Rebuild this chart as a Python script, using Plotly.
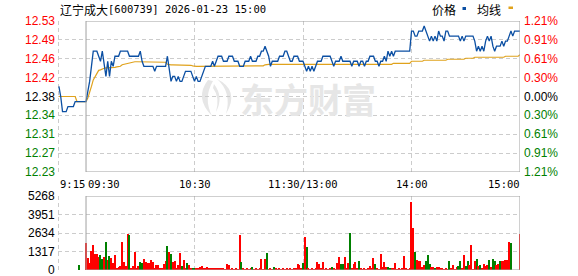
import plotly.graph_objects as go

W, H = 578, 276
PRE_CLOSE = 12.38

# ---------------- data ----------------
# pre-market call auction 9:15 - 9:29 (minute offsets -15..-1 from 09:30)
pre_price = [12.40, 12.38, 12.35, 12.35, 12.35, 12.36, 12.36, 12.36, 12.36, 12.37,
             12.37, 12.37, 12.37, 12.37, 12.37]
pre_avg = [12.38, 12.38, 12.38, 12.38, 12.38, 12.38, 12.38, 12.38, 12.38, 12.38,
           12.37, 12.37, 12.37, 12.37, 12.37]
pre_volume = [0, 0, 0, 0, 0, 0, 0, 0, 0, 0, 0, 356, 0, 0, 0]
pre_vol_up = [1, 1, 1, 1, 1, 1, 1, 1, 1, 1, 1, 0, 1, 1, 1]

# continuous session, one value per trading minute 09:30 .. 15:00 (241 points)
price = [
    12.37, 12.39, 12.41, 12.44, 12.47, 12.47, 12.47, 12.46, 12.45, 12.47,
    12.44, 12.42, 12.45, 12.42, 12.45, 12.44, 12.46, 12.46, 12.46, 12.47,
    12.47, 12.47, 12.47, 12.47, 12.46, 12.46, 12.46, 12.46, 12.46, 12.46,
    12.47, 12.45, 12.44, 12.44, 12.44, 12.44, 12.44, 12.44, 12.43, 12.44,
    12.44, 12.44, 12.44, 12.44, 12.44, 12.46, 12.43, 12.41, 12.42, 12.42,
    12.41, 12.42, 12.41, 12.41, 12.42, 12.43, 12.43, 12.43, 12.43, 12.42,
    12.41, 12.42, 12.41, 12.41, 12.42, 12.43, 12.44, 12.44, 12.44, 12.44,
    12.45, 12.44, 12.45, 12.46, 12.46, 12.46, 12.45, 12.45, 12.45, 12.46,
    12.46, 12.46, 12.45, 12.45, 12.45, 12.44, 12.44, 12.44, 12.45, 12.45,
    12.45, 12.46, 12.45, 12.45, 12.45, 12.46, 12.46, 12.47, 12.47, 12.48,
    12.47, 12.46, 12.44, 12.45, 12.45, 12.45, 12.45, 12.46, 12.46, 12.46,
    12.47, 12.47, 12.46, 12.45, 12.45, 12.46, 12.46, 12.46, 12.45, 12.45,
    12.45, 12.44, 12.43, 12.44, 12.43, 12.44, 12.43, 12.44, 12.45, 12.45,
    12.45, 12.46, 12.46, 12.46, 12.46, 12.46, 12.45, 12.44, 12.45, 12.45,
    12.45, 12.46, 12.45, 12.45, 12.45, 12.45, 12.45, 12.44, 12.45, 12.45,
    12.45, 12.44, 12.45, 12.45, 12.44, 12.45, 12.45, 12.46, 12.46, 12.46,
    12.45, 12.45, 12.44, 12.45, 12.45, 12.46, 12.45, 12.47, 12.46, 12.47,
    12.46, 12.47, 12.47, 12.47, 12.47, 12.47, 12.47, 12.47, 12.47, 12.47,
    12.51, 12.51, 12.50, 12.50, 12.51, 12.51, 12.51, 12.52, 12.51, 12.50,
    12.49, 12.50, 12.49, 12.50, 12.49, 12.51, 12.50, 12.50, 12.49, 12.51,
    12.51, 12.50, 12.50, 12.50, 12.50, 12.50, 12.50, 12.49, 12.50, 12.49,
    12.50, 12.50, 12.50, 12.50, 12.50, 12.49, 12.47, 12.48, 12.47, 12.48,
    12.47, 12.49, 12.50, 12.49, 12.50, 12.48, 12.47, 12.48, 12.48, 12.48,
    12.49, 12.48, 12.49, 12.49, 12.50, 12.51, 12.50, 12.51, 12.51, 12.51,
    12.51,
]

avg = [
    12.370, 12.377, 12.387, 12.400, 12.413, 12.420, 12.427, 12.432, 12.433, 12.435,
    12.436, 12.437, 12.437, 12.437, 12.438, 12.438, 12.438, 12.439, 12.439, 12.440,
    12.443, 12.444, 12.445, 12.446, 12.447, 12.447, 12.448, 12.449, 12.449, 12.449,
    12.449, 12.449, 12.449, 12.449, 12.449, 12.449, 12.449, 12.449, 12.449, 12.449,
    12.449, 12.449, 12.449, 12.449, 12.448, 12.444, 12.443, 12.443, 12.443, 12.443,
    12.442, 12.442, 12.442, 12.442, 12.442, 12.442, 12.442, 12.442, 12.442, 12.441,
    12.440, 12.440, 12.440, 12.440, 12.440, 12.440, 12.440, 12.440, 12.440, 12.440,
    12.440, 12.440, 12.440, 12.440, 12.440, 12.440, 12.440, 12.440, 12.440, 12.441,
    12.441, 12.441, 12.441, 12.441, 12.441, 12.441, 12.441, 12.441, 12.441, 12.441,
    12.441, 12.441, 12.441, 12.441, 12.441, 12.441, 12.441, 12.441, 12.441, 12.443,
    12.444, 12.444, 12.444, 12.444, 12.444, 12.444, 12.444, 12.444, 12.444, 12.444,
    12.444, 12.444, 12.444, 12.444, 12.444, 12.444, 12.444, 12.444, 12.444, 12.444,
    12.444, 12.444, 12.444, 12.444, 12.444, 12.444, 12.444, 12.444, 12.444, 12.444,
    12.444, 12.444, 12.444, 12.444, 12.444, 12.444, 12.444, 12.444, 12.444, 12.444,
    12.444, 12.444, 12.444, 12.444, 12.444, 12.444, 12.444, 12.444, 12.444, 12.444,
    12.444, 12.444, 12.444, 12.444, 12.444, 12.444, 12.444, 12.444, 12.444, 12.444,
    12.444, 12.444, 12.444, 12.444, 12.444, 12.444, 12.444, 12.444, 12.444, 12.444,
    12.446, 12.446, 12.446, 12.446, 12.446, 12.446, 12.446, 12.446, 12.446, 12.446,
    12.450, 12.450, 12.450, 12.450, 12.450, 12.450, 12.450, 12.452, 12.452, 12.452,
    12.452, 12.452, 12.452, 12.452, 12.452, 12.452, 12.452, 12.452, 12.452, 12.452,
    12.454, 12.454, 12.454, 12.454, 12.454, 12.454, 12.454, 12.454, 12.454, 12.454,
    12.456, 12.456, 12.456, 12.456, 12.456, 12.458, 12.458, 12.458, 12.458, 12.458,
    12.458, 12.458, 12.458, 12.458, 12.458, 12.458, 12.458, 12.458, 12.458, 12.458,
    12.458, 12.458, 12.460, 12.460, 12.460, 12.460, 12.460, 12.460, 12.460, 12.460,
    12.463,
]

volume = [
    1946, 878, 522, 1376, 1780, 1139, 1139, 950, 1068, 783,
    925, 2017, 712, 997, 878, 498, 1068, 119, 237, 285,
    1993, 570, 285, 2563, 2492, 142, 285, 1281, 119, 285,
    570, 498, 783, 593, 522, 475, 712, 570, 166, 356,
    356, 119, 119, 403, 641, 1709, 1305, 1139, 570, 641,
    119, 356, 1234, 285, 712, 119, 475, 356, 119, 142,
    95, 95, 166, 237, 285, 166, 119, 237, 95, 95,
    119, 95, 166, 95, 119, 166, 95, 71, 427, 356,
    47, 95, 71, 95, 71, 2492, 570, 95, 71, 95,
    71, 95, 190, 71, 95, 71, 95, 783, 71, 783,
    1210, 71, 95, 71, 190, 95, 71, 95, 71, 95,
    71, 95, 71, 95, 71, 95, 142, 427, 332, 95,
    498, 2373, 1661, 95, 71, 95, 71, 95, 593, 427,
    95, 593, 71, 95, 71, 95, 214, 95, 71, 522,
    925, 403, 451, 925, 95, 522, 2610, 95, 427, 570,
    95, 664, 95, 71, 95, 71, 95, 285, 95, 854,
    427, 95, 71, 1139, 237, 546, 237, 190, 142, 95,
    119, 522, 71, 95, 71, 95, 997, 95, 71, 142,
    4865, 2990, 1305, 712, 664, 664, 190, 356, 641, 1068,
    427, 190, 237, 166, 190, 214, 166, 95, 71, 95,
    71, 664, 142, 356, 71, 190, 285, 664, 95, 1068,
    285, 617, 356, 1780, 71, 617, 783, 285, 356, 95,
    427, 285, 356, 712, 190, 783, 617, 356, 427, 664,
    617, 641, 712, 712, 2017, 1946, 0, 0, 0, 0,
    2563,
]

vol_up = [
    1, 1, 1, 1, 1, 1, 1, 1, 0, 0,
    1, 0, 1, 0, 1, 1, 1, 1, 1, 1,
    1, 1, 1, 1, 0, 1, 1, 1, 1, 1,
    0, 0, 1, 1, 1, 1, 1, 1, 1, 1,
    1, 1, 1, 1, 1, 0, 1, 0, 1, 1,
    1, 1, 1, 0, 1, 1, 0, 1, 1, 0,
    0, 1, 1, 1, 1, 1, 1, 1, 1, 1,
    1, 1, 1, 1, 1, 1, 1, 1, 1, 1,
    1, 1, 1, 1, 1, 1, 0, 1, 1, 1,
    1, 1, 0, 1, 1, 1, 1, 1, 1, 1,
    0, 1, 1, 1, 0, 1, 1, 1, 1, 1,
    1, 1, 1, 1, 1, 1, 1, 1, 1, 1,
    0, 1, 0, 1, 1, 1, 1, 1, 1, 1,
    1, 1, 1, 1, 1, 1, 0, 1, 1, 1,
    1, 0, 0, 1, 1, 1, 0, 1, 1, 1,
    1, 0, 1, 1, 1, 1, 1, 1, 1, 1,
    0, 1, 1, 1, 1, 1, 1, 0, 0, 1,
    1, 1, 1, 1, 1, 1, 1, 1, 1, 1,
    1, 1, 0, 1, 1, 1, 1, 1, 0, 0,
    0, 1, 1, 0, 1, 1, 1, 1, 1, 1,
    1, 0, 1, 1, 1, 1, 0, 0, 1, 1,
    0, 0, 1, 1, 1, 1, 0, 1, 0, 1,
    1, 1, 1, 0, 1, 0, 0, 1, 1, 0,
    1, 1, 1, 1, 1, 0, 1, 1, 1, 1,
    1,
]

price_tick_labels = ["12.53", "12.49", "12.46", "12.42", "12.38", "12.34", "12.31", "12.27", "12.23"]
pct_tick_labels = ["1.21%", "0.91%", "0.61%", "0.30%", "0.00%", "0.30%", "0.61%", "0.91%", "1.21%"]
vol_tick_labels = ["5268", "3951", "2634", "1317", "0"]
time_labels = ["9:15", "09:30", "10:30", "11:30/13:00", "14:00", "15:00"]
time_minutes = [-15.5, 0, 60, 120, 180, 240]

title_name = "辽宁成大"
title_rest = "[600739] 2026-01-23 15:00"
legend_names = ["价格", "均线"]
watermark = "东方财富"

# ---------------- styling ----------------
BLUE = "#0b4fa3"
GOLD = "#e0a21c"
RED = "#ff0000"
GREEN = "#008000"
GRID = "#cccccc"
BORDER = "#a0a0a0"
NUM_FONT = "Liberation Sans, Arial, sans-serif"
MONO = "DejaVu Sans Mono, monospace"
CJK = "Noto Sans CJK SC, sans-serif"

L, R = 58, 520          # pixel x of plot area
PLOT_W = R - L
X_RANGE = [-15.5, 240]
P_LO, P_HI = 12.23, 12.53
V_HI = 5268


def xp(p):
    return (p - L) / PLOT_W


def yp(p):
    return (H - p) / H


n_ticks = len(price_tick_labels)
price_ticks = [P_HI - i * (P_HI - P_LO) / (n_ticks - 1) for i in range(n_ticks)]
vol_ticks = [V_HI - i * V_HI / (len(vol_tick_labels) - 1) for i in range(len(vol_tick_labels))]

pre_minutes = list(range(-len(pre_price), 0))
minutes = list(range(len(price)))

fig = go.Figure()

all_vol_x = pre_minutes + minutes
all_vol = pre_volume + volume
all_up = pre_vol_up + vol_up
fig.add_trace(go.Bar(
    x=all_vol_x, y=all_vol, xaxis="x2", yaxis="y2",
    marker=dict(color=[RED if u else GREEN for u in all_up], line=dict(width=0)),
    width=0.62, showlegend=False, hoverinfo="skip",
))

fig.add_trace(go.Scatter(
    x=pre_minutes + minutes, y=pre_avg + avg, mode="lines",
    line=dict(color=GOLD, width=1.2), showlegend=False, hoverinfo="skip",
))
fig.add_trace(go.Scatter(
    x=pre_minutes + minutes, y=pre_price + price, mode="lines",
    line=dict(color=BLUE, width=1.3), showlegend=False, hoverinfo="skip",
))

main_dom = [yp(172), yp(21)]
vol_dom = [yp(270), yp(196)]

xcommon = dict(range=X_RANGE, showticklabels=False, showline=False, zeroline=False,
               ticks="", tickvals=[60, 120, 180], showgrid=True, gridcolor=GRID,
               griddash="4px,3px", gridwidth=1, fixedrange=True)

fig.update_layout(
    width=W, height=H, autosize=False,
    margin=dict(l=L, r=W - R, t=0, b=0, pad=0),
    paper_bgcolor="white", plot_bgcolor="rgba(0,0,0,0)",
    bargap=0,
    xaxis=dict(anchor="y", **xcommon),
    xaxis2=dict(anchor="y2", matches="x", **xcommon),
    yaxis=dict(domain=main_dom, range=[P_LO, P_HI], tickvals=price_ticks,
               showticklabels=False, showgrid=True, gridcolor=GRID, griddash="4px,3px",
               zeroline=False, showline=False, ticks=""),
    yaxis2=dict(domain=vol_dom, range=[0, V_HI], tickvals=vol_ticks,
                showticklabels=False, showgrid=True, gridcolor=GRID, griddash="4px,3px",
                zeroline=False, showline=False, ticks=""),
)

shapes = []
# watermark logo (light grey swooshes)
def pix_path(pts_cmds):
    return pts_cmds

def P(x, y):
    return f"{xp(x):.5f},{yp(y):.5f}"

logo_paths = [
    f"M {P(208,80)} Q {P(194,98)} {P(212,116)} Q {P(203,98)} {P(213,81)} Z",
    f"M {P(214,84)} Q {P(224,97)} {P(216,112)} Q {P(220,97)} {P(213,88)} Z",
    f"M {P(217,79)} Q {P(240,90)} {P(226,114)} Q {P(232,92)} {P(217,79)} Z",
]
for pth in logo_paths:
    shapes.append(dict(type="path", xref="paper", yref="paper", path=pth,
                       fillcolor="#e6e6e6", line=dict(width=0), layer="below"))

# left 9:15 dashed line across both panels
for dom in (main_dom, vol_dom):
    shapes.append(dict(type="line", xref="paper", yref="paper",
                       x0=0.5 / PLOT_W, x1=0.5 / PLOT_W, y0=dom[0], y1=dom[1],
                       line=dict(color=GRID, width=1, dash="4px,3px"), layer="below"))
# solid borders of the continuous-session boxes
shapes.append(dict(type="rect", xref="x", yref="y", x0=0, x1=240, y0=P_LO, y1=P_HI,
                   line=dict(color=BORDER, width=1), layer="above"))
shapes.append(dict(type="rect", xref="x2", yref="y2", x0=0, x1=240, y0=0, y1=V_HI,
                   line=dict(color=BORDER, width=1), layer="above"))
# legend swatches
shapes.append(dict(type="rect", xref="paper", yref="paper",
                   x0=xp(462.5), x1=xp(466), y0=yp(10), y1=yp(7),
                   fillcolor=BLUE, line=dict(width=0)))
shapes.append(dict(type="rect", xref="paper", yref="paper",
                   x0=xp(508.5), x1=xp(513), y0=yp(9), y1=yp(6.5),
                   fillcolor=GOLD, line=dict(width=0)))

ann = []


def text(x, y, s, size, color, family, xanchor="left", xref="paper", yref="paper"):
    ann.append(dict(x=x, y=y, xref=xref, yref=yref, text=s, showarrow=False,
                    xanchor=xanchor, yanchor="middle", borderpad=0,
                    font=dict(size=size, color=color, family=family)))


def level_color(i, mid):
    if i < mid:
        return RED
    if i == mid:
        return "#000000"
    return GREEN


mid = n_ticks // 2
for i, (v, lab, pl) in enumerate(zip(price_ticks, price_tick_labels, pct_tick_labels)):
    c = level_color(i, mid)
    text(xp(56), v, lab, 12, c, NUM_FONT, xanchor="right", yref="y")
    text(xp(523), v, pl, 12, c, NUM_FONT, xanchor="left", yref="y")

for v, lab in zip(vol_ticks, vol_tick_labels):
    text(xp(56), v, lab, 12, "#000000", NUM_FONT, xanchor="right", yref="y2")

# time axis labels
anchors = ["left", "left", "center", "center", "center", "right"]
for m, lab, a in zip(time_minutes, time_labels, anchors):
    xpx = L + (m - X_RANGE[0]) / (X_RANGE[1] - X_RANGE[0]) * PLOT_W
    if a == "left":
        xpx += 0.5
    if a == "right":
        xpx += 0.5
    text(xp(xpx), yp(183.5), lab, 10.5, "#000000", MONO, xanchor=a)

# title
text(xp(58.5), yp(9), title_name, 12, "#000000", CJK)
text(xp(106.5), yp(9), title_rest, 10.5, "#000000", MONO)

# legend
text(xp(431), yp(9), legend_names[0], 12, "#000000", CJK)
text(xp(476), yp(9), legend_names[1], 12, "#000000", CJK)

# watermark text
ann.append(dict(x=xp(308), y=yp(98.5), xref="paper", yref="paper",
                text="<b>" + watermark + "</b>", showarrow=False,
                xanchor="center", yanchor="middle",
                font=dict(size=34, color="#e6e6e6", family=CJK)))

fig.update_layout(shapes=shapes, annotations=ann)

fig.write_html("out.html", config={"displayModeBar": False})
